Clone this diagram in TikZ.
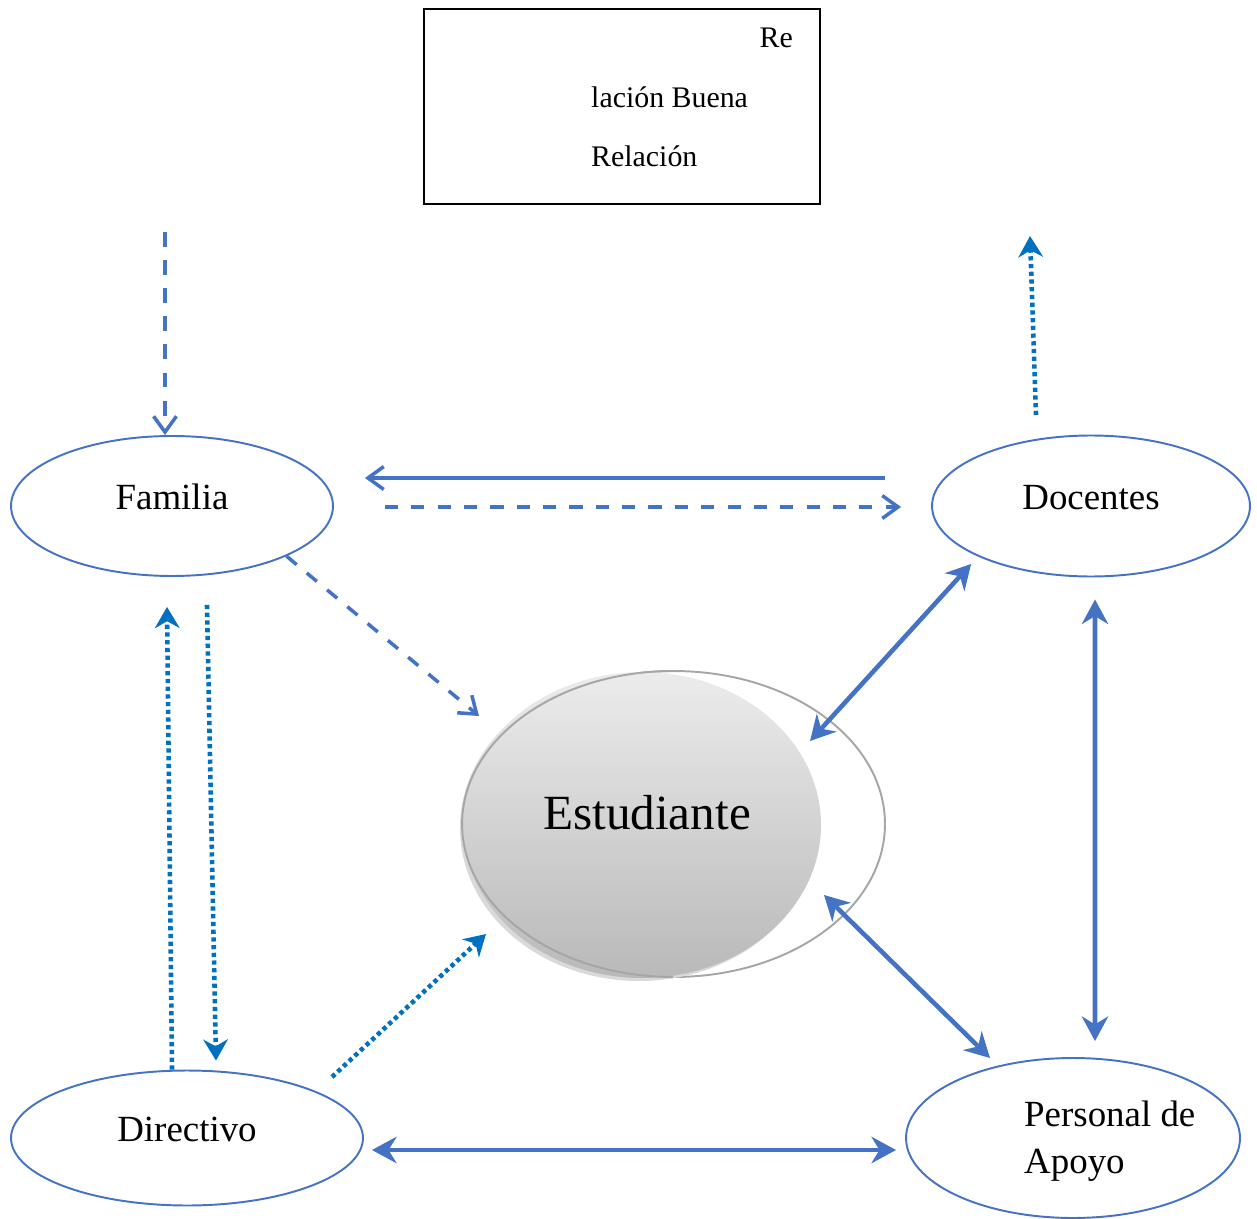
\documentclass[tikz,border=0pt]{standalone}
\usepackage{fontspec}
\setmainfont{Liberation Serif}
\usetikzlibrary{positioning,shapes,arrows.meta}

\definecolor{linkblue}{HTML}{4472C4}
\definecolor{dotblue}{HTML}{0070C0}

\begin{document}
\begin{tikzpicture}[x=0.02cm, y=-0.02cm,
    actor/.style={ellipse, draw=linkblue, line width=1.1pt, align=center,
                  text depth=0.36cm, font=\fontsize{21}{25}\selectfont},
    legendtxt/.style={font=\fontsize{17}{20}\selectfont},
    oneway/.style={draw=linkblue, line width=2pt,
                   -{Straight Barb[length=9pt,width=13pt,line width=2pt]}},
    dashway/.style={oneway, dash pattern=on 7.5pt off 7.5pt},
    twoway/.style={draw=linkblue, line width=2.6pt,
                   {Stealth[length=14pt,width=15pt]}-{Stealth[length=14pt,width=15pt]}},
    dotway/.style={draw=dotblue, line width=2.6pt, dash pattern=on 2.4pt off 2pt,
                   -{Stealth[length=12pt,width=14pt]}}
]
\useasboundingbox (0,0) rectangle (1257,1219);

% --- Legend box ---
\node[draw, line width=1.2pt, minimum width=7.92cm, minimum height=3.9cm] (legend) at (622,106.5) {};
\node[legendtxt, anchor=east] (lgRe) at (799,38) {Re};
\node[legendtxt, anchor=west] (lgBuena) at (585,97) {lación Buena};
\node[legendtxt, anchor=west] (lgRel) at (585,156) {Relación};

% --- Student in the middle ---
\node[ellipse, draw=gray!70, line width=1.1pt, minimum width=8.44cm, minimum height=6.12cm] (est) at (674,824) {};
\fill[gray!30] (639,828) ellipse [x radius=179, y radius=153];
\shade[top color=gray!15, bottom color=gray!55] (642,825) ellipse [x radius=179, y radius=153];
\draw[gray!70, line width=1.1pt] (est.west) arc[start angle=180, end angle=90, x radius=211, y radius=153];
\draw[gray!70, line width=1.1pt] (est.west) arc[start angle=180, end angle=270, x radius=211, y radius=153];
\node[font=\fontsize{28}{32}\selectfont] (estText) at (647,813) {Estudiante};

% --- Actors ---
\node[actor, minimum width=6.44cm, minimum height=2.8cm] (fam) at (172,506) {Familia};
\node[actor, minimum width=6.36cm, minimum height=2.82cm] (doc) at (1091,506) {Docentes};
\node[actor, minimum width=7.04cm, minimum height=2.7cm] (dir) at (187,1138) {Directivo};
\node[actor, minimum width=6.68cm, minimum height=3.2cm] (apo) at (1073,1138) {};
\node[font=\fontsize{21}{25}\selectfont, align=left, anchor=west] (apoText) at (1018,1141) {Personal de\\[2pt]Apoyo};

% --- Free ends ---
\coordinate (famIn) at (165,232);
\coordinate (docTop) at (1036,415);
\coordinate (docOut) at (1030,236);
\coordinate (estNW) at (479,716);
\coordinate (estNE) at (810,741);
\coordinate (estSE) at (824,895);
\coordinate (apoNW) at (990,1058);
\coordinate (dirNE) at (332,1077);
\coordinate (estSW) at (486,934);

% --- Arrows ---
\draw[dashway, line width=1.8pt, dash pattern=on 8.5pt off 7.5pt] (famIn) -- (famIn |- fam.north);
\draw[dotway] (docTop) -- (docOut);
\draw[oneway, shorten <=0.92cm, shorten >=0.62cm] ([yshift=0.56cm]doc.west) -- ([yshift=0.56cm]fam.east);
\draw[dashway, shorten <=1.02cm, shorten >=0.6cm] ([yshift=-0.02cm]fam.east) -- ([yshift=-0.02cm]doc.west);
\draw[dashway] (fam.south east) -- (estNW);
\draw[twoway, shorten <=0.2cm] (doc.south west) -- (estNE);
\draw[twoway, shorten <=0.44cm, shorten >=0.32cm] ([xshift=0.08cm]doc.south) -- ([xshift=0.44cm]apo.north);
\draw[twoway] (estSE) -- (apoNW);
\draw[twoway, shorten <=0.16cm, shorten >=0.18cm] ([yshift=-0.24cm]dir.east) -- ([yshift=-0.24cm]apo.west);
\draw[dotway] ([xshift=-0.3cm]dir.north) -- ([xshift=-0.1cm,yshift=-0.6cm]fam.south);
\draw[dotway] ([xshift=0.7cm,yshift=-0.56cm]fam.south) -- ([xshift=0.58cm,yshift=0.18cm]dir.north);
\draw[dotway] (dirNE) -- (estSW);

\end{tikzpicture}
\end{document}
